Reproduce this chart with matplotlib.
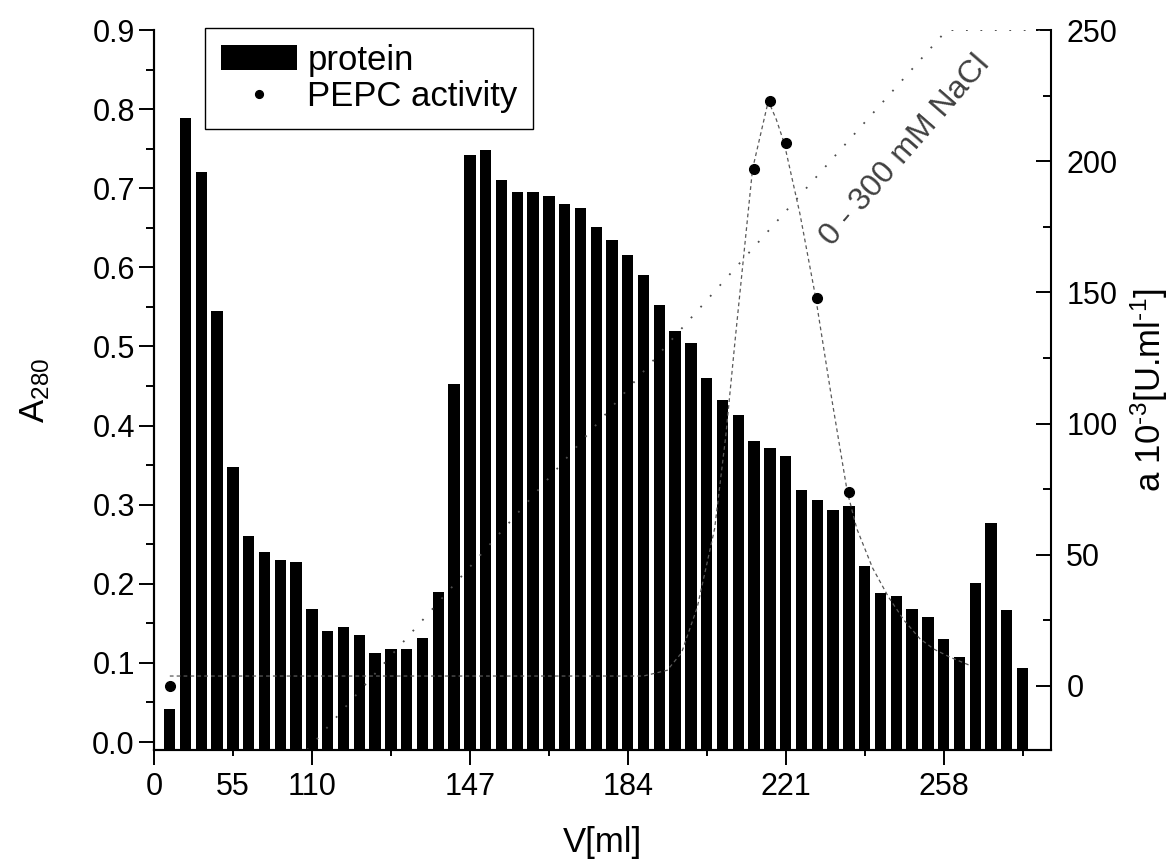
import numpy as np
import matplotlib.pyplot as plt
from matplotlib.ticker import FixedLocator, FixedFormatter, MultipleLocator, FormatStrFormatter

plt.rcParams['font.family'] = ['Liberation Sans', 'DejaVu Sans']
plt.rcParams['mathtext.default'] = 'regular'

# fraction number and A280 of each fraction
fraction = np.arange(1, 56)
protein = [0.042, 0.789, 0.72, 0.545, 0.348, 0.26, 0.24, 0.23, 0.227, 0.168,
           0.14, 0.146, 0.135, 0.112, 0.118, 0.118, 0.132, 0.19, 0.452, 0.742,
           0.748, 0.71, 0.695, 0.695, 0.69, 0.68, 0.675, 0.651, 0.634, 0.616,
           0.59, 0.553, 0.52, 0.505, 0.46, 0.432, 0.413, 0.38, 0.372, 0.362,
           0.318, 0.306, 0.293, 0.298, 0.223, 0.188, 0.185, 0.168, 0.158, 0.13,
           0.108, 0.201, 0.277, 0.167, 0.093]

# PEPC activity measurements
pepc_frac = [1, 38, 39, 40, 42, 44]
pepc_act = [0, 197, 223, 207, 148, 74]

# hand drawn activity curve
trace_frac = [1, 31.0, 32.5, 33.4, 34.4, 35.5, 36.2, 36.8, 37.9, 38.9, 39.4,
              39.9, 40.9, 41.9, 42.9, 43.9, 44.5, 45.5, 46.5, 47.5, 48.5, 49.4,
              50.4, 51.6]
trace_act = [3.8, 3.8, 6, 12.6, 30, 60, 95, 132, 197, 223, 216, 207, 180, 148,
             110, 74, 60, 45, 34, 25, 18, 14, 11, 8]

# NaCl gradient
grad_frac = [9.7, 50.2, 57]
grad_act = [-24.4, 250, 250]

# x axis labels (ml)
major_pos = [0, 10, 20, 30, 40, 50]
major_lab = ['0', '110', '147', '184', '221', '258']
minor_pos = [5, 15, 25, 35, 45, 55]
minor_lab = ['55', '', '', '', '', '']

fig = plt.figure(figsize=(11.73, 8.61), dpi=100)
ax = fig.add_axes([0.1313, 0.1289, 0.7647, 0.8362])
ax2 = ax.twinx()

y_low = -0.0101
bars = ax.bar(fraction, np.array(protein) - y_low, bottom=y_low, width=0.72,
              color='black', label='protein')
ax.set_xlim(0, 56.8)
ax.set_ylim(y_low, 0.9)

ax2.plot(grad_frac, grad_act, color='0.3', lw=1.3, linestyle=(0, (1, 7)))
ax2.plot(trace_frac, trace_act, color='0.35', lw=0.9, linestyle=(0, (3, 2.5)))
dots, = ax2.plot(pepc_frac, pepc_act, 'o', color='black', ms=7, label='PEPC activity', zorder=5)
ax2.set_ylim(-24.4, 250)
ax2.text(47.6, 204, '0 - 300 mM NaCl', rotation=49, ha='center', va='center',
         rotation_mode='anchor', fontsize=23, color='0.25')

# ticks
ax.xaxis.set_major_locator(FixedLocator(major_pos))
ax.xaxis.set_major_formatter(FixedFormatter(major_lab))
ax.xaxis.set_minor_locator(FixedLocator(minor_pos))
ax.xaxis.set_minor_formatter(FixedFormatter(minor_lab))
ax.yaxis.set_major_locator(MultipleLocator(0.1))
ax.yaxis.set_minor_locator(MultipleLocator(0.05))
ax.yaxis.set_major_formatter(FormatStrFormatter('%.1f'))
ax2.yaxis.set_major_locator(MultipleLocator(50))
ax2.yaxis.set_minor_locator(MultipleLocator(25))

ax.tick_params(axis='y', which='major', direction='out', length=10.8, width=1.4, labelsize=22, pad=3)
ax.tick_params(axis='y', which='minor', direction='out', length=5.8, width=1.4)
ax.tick_params(axis='x', which='major', direction='out', length=10.8, width=1.4, labelsize=22, pad=5)
ax.tick_params(axis='x', which='minor', direction='out', length=4.3, width=1.4, labelsize=22, pad=11.5)
ax2.tick_params(axis='y', which='major', direction='in', length=10.8, width=1.4, labelsize=22, pad=11)
ax2.tick_params(axis='y', which='minor', direction='in', length=5.8, width=1.4)

for a in (ax, ax2):
    a.spines['top'].set_visible(False)
    for s in ('left', 'right', 'bottom'):
        a.spines[s].set_linewidth(1.5)
ax.spines['right'].set_visible(False)

ax.set_xlabel('V[ml]', fontsize=25, labelpad=17)
ax.set_ylabel('A$_{280}$', fontsize=25, labelpad=29)
ax2.set_ylabel('a 10$^{\u20103}$[U.ml$^{\u20101}$]', fontsize=25, labelpad=8)

leg = ax2.legend([bars, dots], ['protein', 'PEPC activity'], loc='upper left',
                 bbox_to_anchor=(205 / 1173, 1 - 28 / 861), bbox_transform=fig.transFigure,
                 borderaxespad=0, fancybox=False, edgecolor='black', framealpha=1,
                 fontsize=25, handlelength=2.2, handleheight=0.75, handletextpad=0.3,
                 borderpad=0.45, labelspacing=0.1, markerscale=0.8)
leg.get_frame().set_linewidth(1.0)

fig.savefig('out.png', dpi=100)
